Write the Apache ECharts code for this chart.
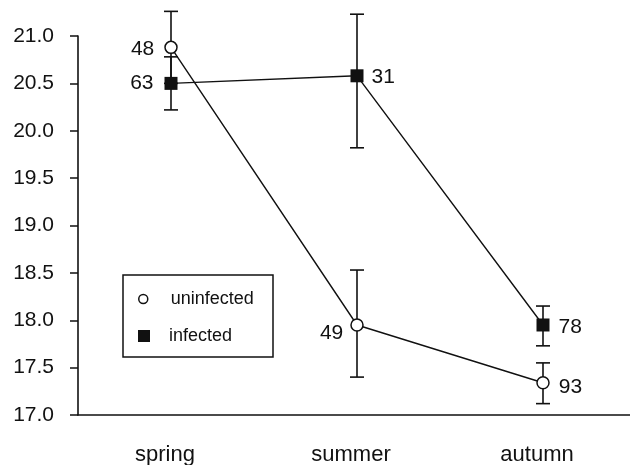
<!DOCTYPE html>
<html>
<head>
<meta charset="utf-8">
<script src="https://cdn.jsdelivr.net/npm/echarts@6/dist/echarts.min.js"></script>
<style>
html, body { margin: 0; padding: 0; background: #fff; }
#main { width: 630px; height: 465px; }
</style>
</head>
<body>
<div id="main"></div>
<script>
// seasons on the x axis
var seasons = ['spring', 'summer', 'autumn'];
var yTicks = ['17.0', '17.5', '18.0', '18.5', '19.0', '19.5', '20.0', '20.5', '21.0'];

// uninfected: means, error bar ends, sample sizes
var uninfMean = [20.88, 17.95, 17.34];
var uninfLow  = [20.50, 17.40, 17.12];
var uninfHigh = [21.26, 18.53, 17.55];
var uninfN    = [48, 49, 93];

// infected
var infMean = [20.50, 20.58, 17.95];
var infLow  = [20.22, 19.82, 17.73];
var infHigh = [20.78, 21.23, 18.15];
var infN    = [63, 31, 78];

var ink = '#111';
var font = 'Liberation Sans, Arial, Helvetica, sans-serif';

var myChart = echarts.init(document.getElementById('main'), null, { renderer: 'canvas' });

function errBars(lo, hi) {
	var d = [];
	for (var i = 0; i < lo.length; i++) {
		d.push([i, lo[i], hi[i]]);
	}
	return d;
}

function renderErr(params, api) {
	var x = api.value(0);
	var a = api.coord([x, api.value(1)]);
	var b = api.coord([x, api.value(2)]);
	var w = 7;
	var st = { stroke: ink, lineWidth: 1.6 };
	return {
		type : 'group',
		children : [
			{ type : 'line', shape : { x1 : a[0], y1 : a[1], x2 : b[0], y2 : b[1] }, style : st },
			{ type : 'line', shape : { x1 : a[0] - w, y1 : a[1], x2 : a[0] + w, y2 : a[1] }, style : st },
			{ type : 'line', shape : { x1 : b[0] - w, y1 : b[1], x2 : b[0] + w, y2 : b[1] }, style : st }
		]
	};
}

// label placement for each point (style, not data)
var uninfLab = [
	{ position : 'left', distance : 10, offset : [0, 2] },
	{ position : 'left', distance : 7, offset : [0, 8] },
	{ position : 'right', distance : 9, offset : [0, 4] }
];
var infLab = [
	{ position : 'left', distance : 11, offset : [0, 0] },
	{ position : 'right', distance : 8, offset : [0, 1] },
	{ position : 'right', distance : 9, offset : [0, 2] }
];

function points(mean, n, lab) {
	var d = [];
	for (var i = 0; i < mean.length; i++) {
		d.push({
			value : mean[i],
			label : {
				show : true,
				formatter : String(n[i]),
				position : lab[i].position,
				distance : lab[i].distance,
				offset : lab[i].offset,
				color : ink,
				fontSize : 21,
				fontFamily : font
			}
		});
	}
	return d;
}

var option = {
	backgroundColor : '#fff',
	animation : false,
	grid : {
		left : 78,
		width : 558,
		top : 36,
		bottom : 50,
		outerBoundsMode : 'none',
		containLabel : false
	},
	legend : [ {
		data : [ { name : 'uninfected', icon : 'circle',
			itemStyle : { color : '#fff', borderColor : ink, borderWidth : 1.5 } } ],
		left : 138,
		top : 290,
		padding : 0,
		itemWidth : 9,
		itemHeight : 9,
		selectedMode : false,
		textStyle : { color : ink, fontSize : 18, fontFamily : font, padding : [0, 0, 0, 18] }
	}, {
		data : [ { name : 'infected', icon : 'rect', itemStyle : { color : ink } } ],
		left : 138,
		top : 327,
		padding : 0,
		itemWidth : 12,
		itemHeight : 12,
		selectedMode : false,
		textStyle : { color : ink, fontSize : 18, fontFamily : font, padding : [0, 0, 0, 14] }
	} ],
	graphic : [ {
		type : 'rect',
		shape : { x : 123, y : 275, width : 150, height : 82 },
		style : { fill : 'none', stroke : ink, lineWidth : 1.5 },
		z : 10
	} ],
	xAxis : {
		type : 'category',
		data : seasons,
		boundaryGap : true,
		axisLine : { lineStyle : { color : ink, width : 1.6 } },
		axisTick : { alignWithLabel : true, length : 8, lineStyle : { color : ink, width : 1.5 } },
		axisLabel : {
			color : ink,
			fontSize : 22,
			fontFamily : font,
			margin : 29,
			padding : [0, 12, 0, 0]
		},
		splitLine : { show : false }
	},
	yAxis : {
		type : 'value',
		min : 17,
		max : 21,
		interval : 0.5,
		axisLine : { show : true, lineStyle : { color : ink, width : 1.6 } },
		axisTick : { show : true, length : 8, lineStyle : { color : ink, width : 1.5 } },
		axisLabel : {
			color : ink,
			fontSize : 21,
			fontFamily : font,
			margin : 24,
			formatter : function(v) {
				var idx = Math.round((v - 17) / 0.5);
				return yTicks[idx];
			}
		},
		splitLine : { show : false }
	},
	series : [ {
		type : 'custom',
		renderItem : renderErr,
		data : errBars(uninfLow, uninfHigh),
		encode : { x : 0, y : [1, 2] },
		z : 1,
		silent : true
	}, {
		type : 'custom',
		renderItem : renderErr,
		data : errBars(infLow, infHigh),
		encode : { x : 0, y : [1, 2] },
		z : 1,
		silent : true
	}, {
		name : 'uninfected',
		type : 'line',
		data : points(uninfMean, uninfN, uninfLab),
		symbol : 'circle',
		symbolSize : 12,
		lineStyle : { color : ink, width : 1.4 },
		itemStyle : { color : '#fff', borderColor : ink, borderWidth : 1.5 },
		z : 3
	}, {
		name : 'infected',
		type : 'line',
		data : points(infMean, infN, infLab),
		symbol : 'rect',
		symbolSize : 13,
		lineStyle : { color : ink, width : 1.4 },
		itemStyle : { color : ink },
		z : 4
	} ]
};

myChart.setOption(option);
</script>
</body>
</html>
